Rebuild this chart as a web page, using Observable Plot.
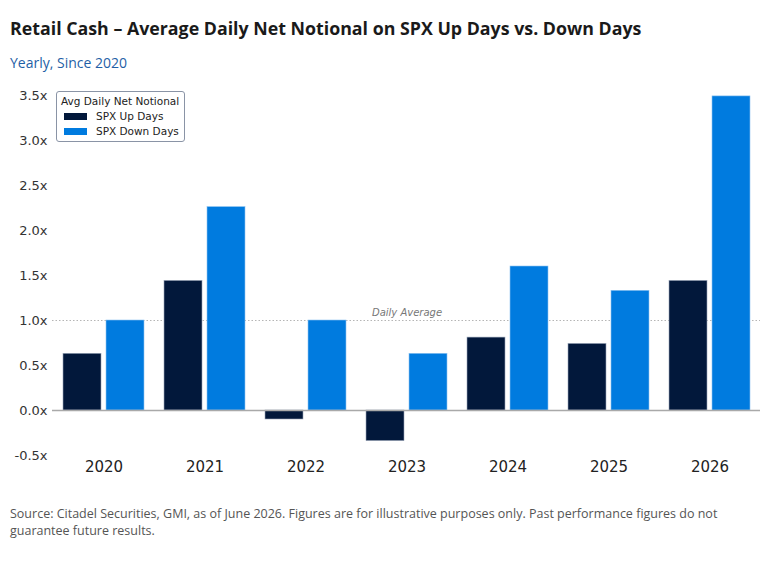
<!DOCTYPE html>
<html>
<head>
<meta charset="utf-8">
<script src="https://cdn.jsdelivr.net/npm/d3@7"></script>
<script src="https://cdn.jsdelivr.net/npm/@observablehq/plot@0.6"></script>
<style>
  body { margin: 0; background: #fff; font-family: "DejaVu Sans", sans-serif; }
  #wrap { position: relative; width: 770px; height: 563px; }
  #title { position: absolute; left: 10px; top: 16px; font-family: "Open Sans", sans-serif; font-weight: 700; font-size: 17.8px; color: #1a1a1a; white-space: nowrap; }
  #subtitle { position: absolute; left: 10px; top: 53px; font-family: "Open Sans", sans-serif; font-size: 14px; color: #1f5fa6; }
  #chart { position: absolute; left: 0; top: 80px; }
  #legend { position: absolute; left: 56px; top: 91px; width: 129px; height: 51px; border: 1px solid #8a94a6; border-radius: 3px; background: #fff; font-family: "DejaVu Sans", sans-serif; font-size: 10.5px; color: #222; padding: 3px 0 0 4px; box-sizing: border-box; white-space: nowrap; line-height: 12px; }
  #legend .row { display: flex; align-items: center; margin-top: 3px; padding-left: 3px; }
  #legend .sw { width: 23px; height: 7px; margin-right: 9px; }
  #caption { position: absolute; left: 10px; top: 505px; width: 740px; font-family: "Open Sans", sans-serif; font-size: 12.5px; color: #555; line-height: 17px; }
</style>
</head>
<body>
<div id="wrap">
  <div id="title">Retail Cash – Average Daily Net Notional on SPX Up Days vs. Down Days</div>
  <div id="subtitle">Yearly, Since 2020</div>
  <div id="chart"></div>
  <div id="legend"></div>
  <div id="caption">Source: Citadel Securities, GMI, as of June 2026. Figures are for illustrative purposes only. Past performance figures do not guarantee future results.</div>
</div>
<script>
const years = ["2020", "2021", "2022", "2023", "2024", "2025", "2026"];
const upDays = [0.63, 1.44, -0.10, -0.34, 0.81, 0.74, 1.44];
const downDays = [1.00, 2.26, 1.00, 0.63, 1.60, 1.33, 3.49];
const seriesNames = ["SPX Up Days", "SPX Down Days"];
const seriesColors = ["#02183b", "#007bdf"];
const yTicks = [-0.5, 0, 0.5, 1.0, 1.5, 2.0, 2.5, 3.0, 3.5];
const legendTitle = "Avg Daily Net Notional";
const avgLevel = 1.0;
const avgLabel = "Daily Average";

const upData = years.map((y, i) => ({year: y, value: upDays[i]}));
const downData = years.map((y, i) => ({year: y, value: downDays[i]}));

const plot = Plot.plot({
  width: 770,
  height: 405,
  marginLeft: 52,
  marginRight: 10,
  marginTop: 15,
  marginBottom: 30,
  style: {fontFamily: "DejaVu Sans, sans-serif", fontSize: "13px", color: "#333", background: "transparent"},
  x: {domain: years, paddingInner: 0.2, paddingOuter: 0.1, label: null, tickSize: 0, tickPadding: 6},
  y: {domain: [-0.5, 3.5], ticks: yTicks, tickFormat: d => d.toFixed(1) + "x", label: null, tickSize: 0, tickPadding: 5},
  marks: [
    Plot.ruleY([avgLevel], {stroke: "#b5b5b5", strokeDasharray: "1.5,2", strokeWidth: 1}),
    Plot.text([avgLabel], {x: () => "2023", y: avgLevel, text: d => d, dy: -8, fontStyle: "italic", fontSize: 10, fill: "#777"}),
    Plot.barY(upData, {x: "year", y: "value", fill: seriesColors[0], insetRight: 43, stroke: "#9aa6b8", strokeWidth: 0.6}),
    Plot.barY(downData, {x: "year", y: "value", fill: seriesColors[1], insetLeft: 43, stroke: "#8fc3f0", strokeWidth: 0.6}),
    Plot.ruleY([0], {stroke: "#a9a9a9", strokeWidth: 1.5})
  ]
});
plot.querySelectorAll('[aria-label="x-axis tick label"] text').forEach(t => { t.style.fontSize = "15px"; t.style.fill = "#222"; });
document.getElementById("chart").appendChild(plot);

const lg = document.getElementById("legend");
let html = `<div>${legendTitle}</div>`;
seriesNames.forEach((n, i) => {
  html += `<div class="row"><span class="sw" style="background:${seriesColors[i]}"></span><span>${n}</span></div>`;
});
lg.innerHTML = html;
</script>
</body>
</html>
